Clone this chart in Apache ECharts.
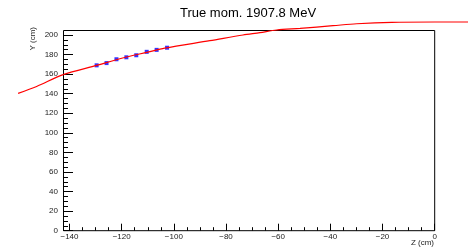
<!DOCTYPE html>
<html>
<head>
<meta charset="utf-8">
<script src="https://cdn.jsdelivr.net/npm/echarts@6/dist/echarts.min.js"></script>
<style>
html,body{margin:0;padding:0;background:#fff;}
#c{width:468px;height:252px;}
</style>
</head>
<body>
<div id="c"></div>
<script>
const titleText = 'True mom. 1907.8 MeV';
const xTitle = 'Z (cm)';
const yTitle = 'Y (cm)';

// fitted track (red curve)
const curveZ = [-159.7, -152.6, -142.4, -129.6, -120.0, -110.0, -103.5, -86.2, -73.5, -67.0, -60.6, -51.6, -39.0, -29.9, -16.5, 0.0, 12.8];
const curveY = [140.4, 147.4, 159.5, 168.9, 176.2, 182.5, 186.6, 194.2, 200.0, 202.4, 205.1, 206.8, 209.5, 211.5, 213.0, 213.3, 213.3];

// measured hits (blue squares)
const hitZ = [-129.6, -125.8, -122.0, -118.2, -114.4, -110.4, -106.6, -102.6];
const hitY = [169.0, 171.3, 175.2, 177.2, 179.3, 182.8, 184.8, 187.0];

// axis ranges / ticks
const xMin = -140, xMax = 0, xStep = 20;
const yMin = 0, yMax = 200, yStep = 20;

// layout (pixels)
const W = 468, H = 252;
const frameL = 63, frameT = 30, frameR = 434.7, frameB = 230.7;
const xMinPx = 69.5, xMaxPx = 434.7;   // pixel of xMin / xMax
const yMaxPx = 35, yMinPx = 230.7;      // pixel of yMax / yMin

const FONT = '"Liberation Sans", Arial, Helvetica, sans-serif';

// full-canvas overlay axes with the same linear mapping (so marks may extend past the frame)
const sx = (xMax - xMin) / (xMaxPx - xMinPx);
const sy = (yMax - yMin) / (yMinPx - yMaxPx);
const ovX = [xMin - xMinPx * sx, xMax + (W - xMaxPx) * sx];
const ovY = [yMin - (H - yMinPx) * sy, yMax + yMaxPx * sy];

const chart = echarts.init(document.getElementById('c'), null, {renderer: 'canvas'});
const curve = curveZ.map((z, i) => [z, curveY[i]]);
const hits = hitZ.map((z, i) => [z, hitY[i]]);

const tickStyle = {color: '#000', width: 1};
const noLine = {show: false, onZero: false};

chart.setOption({
  animation: false,
  backgroundColor: '#fff',
  title: {
    text: titleText,
    left: 180,
    top: 7,
    padding: 0,
    textStyle: {fontFamily: FONT, fontSize: 13, fontWeight: 'normal', color: '#000'}
  },
  grid: [
    // 0: x-axis ticks
    {left: xMinPx, right: W - xMaxPx, top: yMaxPx, bottom: H - yMinPx},
    // 1: y-axis ticks
    {left: frameL, right: W - frameR, top: yMaxPx, bottom: H - yMinPx},
    // 2: data overlay, whole canvas
    {left: 0, right: 0, top: 0, bottom: 0}
  ],
  xAxis: [
    {gridIndex: 0, type: 'value', min: xMin, max: xMax, interval: xStep, position: 'bottom',
      axisLine: noLine, splitLine: {show: false},
      axisTick: {show: true, inside: true, length: 7, lineStyle: tickStyle},
      minorTick: {show: true, splitNumber: 4, length: 3.5, lineStyle: tickStyle},
      axisLabel: {margin: 2, fontFamily: FONT, fontSize: 8, color: '#222',
        formatter: v => (v < 0 ? '\u2212' + Math.abs(v) : String(v))}},
    {gridIndex: 1, type: 'value', min: xMin, max: xMax, show: false, axisLine: noLine},
    {gridIndex: 2, type: 'value', min: ovX[0], max: ovX[1], show: false, axisLine: noLine}
  ],
  yAxis: [
    {gridIndex: 0, type: 'value', min: yMin, max: yMax, show: false, axisLine: noLine},
    {gridIndex: 1, type: 'value', min: yMin, max: yMax, interval: yStep, position: 'left',
      axisLine: noLine, splitLine: {show: false},
      axisTick: {show: true, inside: true, length: 10, lineStyle: tickStyle},
      minorTick: {show: true, splitNumber: 4, length: 5, lineStyle: tickStyle},
      axisLabel: {margin: 5, fontFamily: FONT, fontSize: 8, color: '#222'}},
    {gridIndex: 2, type: 'value', min: ovY[0], max: ovY[1], show: false, axisLine: noLine}
  ],
  graphic: [
    {type: 'rect', z: 50, silent: true,
      shape: {x: frameL + 0.5, y: frameT + 0.5, width: frameR - frameL - 0.5, height: frameB - frameT - 0.5},
      style: {fill: null, stroke: '#000', lineWidth: 1}},
    {type: 'text', x: 434, y: 243, silent: true,
      style: {text: xTitle, align: 'right', verticalAlign: 'middle', font: '8px ' + FONT, fill: '#222'}},
    {type: 'text', x: 32.5, y: 27, rotation: Math.PI / 2, silent: true,
      style: {text: yTitle, align: 'right', verticalAlign: 'middle', font: '8px ' + FONT, fill: '#222'}}
  ],
  series: [
    {type: 'scatter', xAxisIndex: 2, yAxisIndex: 2, data: hits, symbol: 'rect', symbolSize: 4,
      itemStyle: {color: '#0000ff'}, z: 60},
    {type: 'line', xAxisIndex: 2, yAxisIndex: 2, data: curve, showSymbol: false, symbol: 'none', smooth: 0.3,
      z: 70, lineStyle: {color: '#ff0000', width: 1.2}}
  ]
});
</script>
</body>
</html>
